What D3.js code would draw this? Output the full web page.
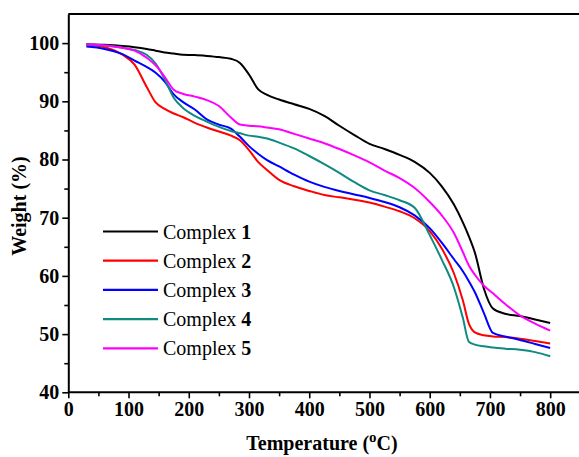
<!DOCTYPE html>
<html>
<head>
<meta charset="utf-8">
<script src="https://cdn.jsdelivr.net/npm/d3@7"></script>
<style>
  body { margin: 0; background: #fff; }
  svg text { font-family: "Liberation Serif", "Times New Roman", serif; }
</style>
</head>
<body>
<div id="chart"></div>
<script>
// temperatures (°C) shared by all curves
var temps = [30, 60, 90, 110, 130, 145, 160, 175, 190, 210, 230, 250, 270, 285, 300, 315, 330, 350, 375, 400,
             425, 450, 475, 500, 525, 550, 575, 600, 620, 640, 655, 665, 675, 690, 705, 725, 750, 775, 800];

// weight (%)
var complex1 = [99.8, 99.7, 99.5, 99.3, 99.0, 98.7, 98.4, 98.2, 98.0, 97.95, 97.8, 97.6, 97.3, 96.6, 94.6, 92.1, 91.1, 90.3, 89.5, 88.7,
                87.5, 85.8, 84.2, 82.7, 81.8, 80.8, 79.6, 77.7, 75.4, 72.3, 69.2, 66.8, 64.0, 57.8, 54.4, 53.5, 53.1, 52.5, 51.9];
var complex2 = [99.7, 99.3, 98.0, 96.3, 92.5, 89.8, 88.7, 87.9, 87.3, 86.3, 85.5, 84.8, 84.1, 83.3, 81.6, 79.6, 78.2, 76.5, 75.4, 74.6,
                73.9, 73.5, 73.1, 72.6, 71.9, 71.1, 69.9, 67.7, 64.7, 60.5, 55.8, 51.8, 50.3, 49.8, 49.6, 49.5, 49.2, 48.8, 48.4];
var complex3 = [99.4, 99.0, 98.1, 97.0, 95.9, 94.9, 93.4, 91.2, 89.9, 88.6, 86.9, 86.0, 85.3, 83.9, 82.3, 81.0, 79.9, 78.8, 77.4, 76.2,
                75.3, 74.6, 74.0, 73.4, 72.7, 71.8, 70.4, 68.2, 65.7, 62.9, 60.8, 59.1, 57.2, 53.6, 50.2, 49.6, 49.0, 48.3, 47.6];
var complex4 = [99.7, 99.6, 99.2, 98.8, 98.0, 96.5, 93.8, 90.6, 88.9, 87.5, 86.5, 85.6, 84.9, 84.5, 84.1, 83.9, 83.6, 82.9, 81.9, 80.6,
                79.2, 77.7, 76.1, 74.7, 73.9, 73.0, 71.7, 67.0, 62.8, 58.1, 52.8, 48.7, 48.2, 47.9, 47.7, 47.5, 47.3, 46.9, 46.2];
var complex5 = [99.8, 99.6, 99.2, 98.7, 97.5, 96.2, 94.2, 92.0, 91.3, 90.8, 90.2, 89.2, 87.2, 86.0, 85.8, 85.7, 85.5, 85.2, 84.4, 83.6,
                82.8, 81.8, 80.7, 79.5, 78.1, 76.8, 75.1, 72.7, 70.4, 67.4, 64.1, 61.8, 60.2, 58.3, 57.0, 55.2, 53.2, 51.8, 50.6];

var seriesNames = ["1", "2", "3", "4", "5"];
var seriesValues = [complex1, complex2, complex3, complex4, complex5];
var seriesColors = ["#000000", "#ff0000", "#0000ff", "#0f8a80", "#ff00ff"];

var xTicks = [0, 100, 200, 300, 400, 500, 600, 700, 800];
var yTicks = [40, 50, 60, 70, 80, 90, 100];

const width = 579, height = 457;

const svg = d3.select("#chart").append("svg")
  .attr("width", width)
  .attr("height", height);

// scales
const x = d3.scaleLinear().domain([0, 850]).range([68.3, 580.3]);
const y = d3.scaleLinear().domain([40, 105]).range([392.3, 14]);

// top frame line
svg.append("line")
  .attr("x1", x(0)).attr("x2", width)
  .attr("y1", y(105)).attr("y2", y(105))
  .attr("stroke", "#000").attr("stroke-width", 2);

// minor ticks
const xMinor = d3.axisBottom(x).tickValues(d3.range(50, 851, 100)).tickSize(4).tickFormat("");
const yMinor = d3.axisLeft(y).tickValues(d3.range(45, 101, 10)).tickSize(4).tickFormat("");

const gxMinor = svg.append("g").attr("transform", "translate(0," + y(40) + ")").call(xMinor);
const gyMinor = svg.append("g").attr("transform", "translate(" + x(0) + ",0)").call(yMinor);
[gxMinor, gyMinor].forEach(function(g) {
  g.select(".domain").remove();
  g.selectAll("line").attr("stroke-width", 1.6);
});

// major axes
const xAxis = d3.axisBottom(x).tickValues(xTicks).tickSize(6).tickPadding(4).tickSizeOuter(0);
const yAxis = d3.axisLeft(y).tickValues(yTicks).tickSize(6).tickPadding(3).tickSizeOuter(0);

const gx = svg.append("g").attr("transform", "translate(0," + y(40) + ")").call(xAxis);
const gy = svg.append("g").attr("transform", "translate(" + x(0) + ",0)").call(yAxis);

[gx, gy].forEach(function(g) {
  g.select(".domain").attr("stroke-width", 2);
  g.selectAll(".tick line").attr("stroke-width", 1.6);
  g.selectAll(".tick text")
    .attr("font-family", "Liberation Serif, serif")
    .attr("font-weight", "bold")
    .attr("font-size", 20)
    .attr("fill", "#000");
});
gx.select(".domain").attr("d", "M" + x(0) + ",0H" + width);

// curves
const line = d3.line()
  .x(function(d) { return x(d[0]); })
  .y(function(d) { return y(d[1]); })
  .curve(d3.curveMonotoneX);

seriesValues.forEach(function(vals, i) {
  svg.append("path")
    .datum(temps.map(function(t, j) { return [t, vals[j]]; }))
    .attr("fill", "none")
    .attr("stroke", seriesColors[i])
    .attr("stroke-width", 2)
    .attr("d", line);
});

// legend
const legend = svg.append("g");
seriesNames.forEach(function(name, i) {
  const cy = 231.5 + i * 29.2;
  legend.append("line")
    .attr("x1", 103).attr("x2", 158)
    .attr("y1", cy).attr("y2", cy)
    .attr("stroke", seriesColors[i]).attr("stroke-width", 2.2);
  const t = legend.append("text")
    .attr("x", 163).attr("y", cy + 7)
    .attr("font-size", 20)
    .attr("fill", "#000")
    .text("Complex ");
  t.append("tspan").attr("font-weight", "bold").text(name);
});

// axis titles
const xt = svg.append("text")
  .attr("x", 322).attr("y", 450)
  .attr("text-anchor", "middle")
  .attr("font-size", 20)
  .attr("font-weight", "bold")
  .text("Temperature (");
xt.append("tspan").attr("font-size", 15).attr("dy", -8).text("o");
xt.append("tspan").attr("dy", 8).text("C)");

svg.append("text")
  .attr("transform", "translate(26,206) rotate(-90)")
  .attr("text-anchor", "middle")
  .attr("font-size", 20)
  .attr("font-weight", "bold")
  .text("Weight (%)");
</script>
</body>
</html>
